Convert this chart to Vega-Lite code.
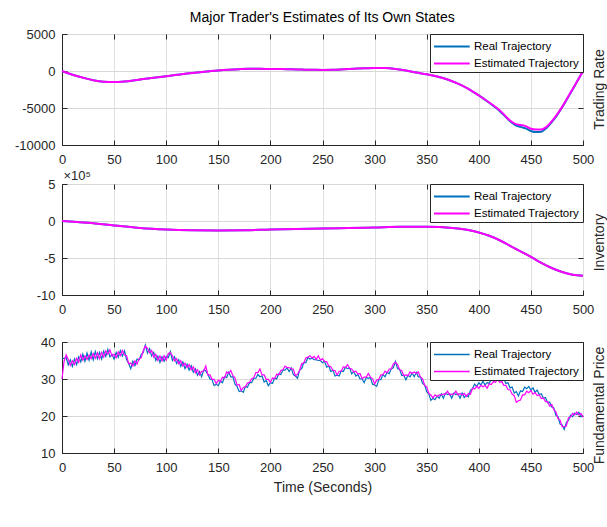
{
  "$schema": "https://vega.github.io/schema/vega-lite/v6.json",
  "padding": {"left": 14, "top": 10, "right": 5, "bottom": 5},
  "title": {"text": "Major Trader's Estimates of Its Own States", "anchor": "middle", "offset": 3, "dx": 12},
  "datasets": {
    "p1": [
      {"t":0,"r":0,"e":0},{"t":10,"r":-500,"e":-500},{"t":20,"r":-900,"e":-900},{"t":30,"r":-1250,"e":-1250},{"t":40,"r":-1450,"e":-1450},{"t":50,"r":-1500,"e":-1500},{"t":60,"r":-1420,"e":-1420},{"t":70,"r":-1250,"e":-1250},{"t":80,"r":-1050,"e":-1050},{"t":90,"r":-880,"e":-880},{"t":100,"r":-700,"e":-700},{"t":110,"r":-520,"e":-520},{"t":120,"r":-350,"e":-350},{"t":130,"r":-200,"e":-200},{"t":140,"r":-60,"e":-60},{"t":150,"r":80,"e":80},{"t":160,"r":180,"e":180},{"t":170,"r":250,"e":250},{"t":180,"r":290,"e":290},{"t":190,"r":290,"e":290},{"t":200,"r":280,"e":280},{"t":210,"r":270,"e":270},{"t":220,"r":240,"e":240},{"t":230,"r":200,"e":200},{"t":240,"r":160,"e":160},{"t":250,"r":150,"e":150},{"t":260,"r":170,"e":170},{"t":270,"r":230,"e":230},{"t":280,"r":300,"e":300},{"t":290,"r":370,"e":370},{"t":300,"r":420,"e":420},{"t":310,"r":400,"e":400},{"t":320,"r":280,"e":280},{"t":330,"r":60,"e":60},{"t":340,"r":-200,"e":-200},{"t":350,"r":-450,"e":-450},{"t":360,"r":-750,"e":-750},{"t":370,"r":-1150,"e":-1150},{"t":380,"r":-1700,"e":-1700},{"t":390,"r":-2400,"e":-2400},{"t":400,"r":-3300,"e":-3300},{"t":410,"r":-4300,"e":-4250},{"t":420,"r":-5400,"e":-5300},{"t":425,"r":-6100,"e":-6000},{"t":430,"r":-6800,"e":-6700},{"t":435,"r":-7300,"e":-7150},{"t":440,"r":-7550,"e":-7300},{"t":445,"r":-7750,"e":-7450},{"t":450,"r":-8100,"e":-7800},{"t":455,"r":-8250,"e":-7900},{"t":460,"r":-8200,"e":-7900},{"t":465,"r":-7700,"e":-7550},{"t":470,"r":-6900,"e":-6800},{"t":475,"r":-6000,"e":-5900},{"t":480,"r":-4900,"e":-4850},{"t":485,"r":-3700,"e":-3650},{"t":490,"r":-2500,"e":-2450},{"t":495,"r":-1250,"e":-1250},{"t":500,"r":0,"e":0}
    ],
    "p2": [
      {"t":0,"r":0,"e":0},{"t":25,"r":-0.25,"e":-0.25},{"t":50,"r":-0.6,"e":-0.6},{"t":75,"r":-0.95,"e":-0.95},{"t":100,"r":-1.15,"e":-1.15},{"t":125,"r":-1.25,"e":-1.25},{"t":150,"r":-1.28,"e":-1.28},{"t":175,"r":-1.25,"e":-1.25},{"t":200,"r":-1.15,"e":-1.15},{"t":225,"r":-1.08,"e":-1.08},{"t":250,"r":-1.02,"e":-1.02},{"t":275,"r":-0.95,"e":-0.95},{"t":300,"r":-0.87,"e":-0.87},{"t":325,"r":-0.78,"e":-0.78},{"t":350,"r":-0.78,"e":-0.78},{"t":375,"r":-0.95,"e":-0.95},{"t":400,"r":-1.55,"e":-1.55},{"t":410,"r":-2.0,"e":-2.0},{"t":420,"r":-2.6,"e":-2.6},{"t":430,"r":-3.35,"e":-3.35},{"t":440,"r":-4.1,"e":-4.1},{"t":450,"r":-4.85,"e":-4.85},{"t":460,"r":-5.65,"e":-5.65},{"t":470,"r":-6.35,"e":-6.35},{"t":480,"r":-6.9,"e":-6.9},{"t":490,"r":-7.25,"e":-7.25},{"t":500,"r":-7.4,"e":-7.4}
    ],
    "p3": [
      {"t":0,"r":35.6,"e":30.0},{"t":2,"r":35.6,"e":34.8},{"t":4,"r":35.8,"e":36.5},{"t":6,"r":33.8,"e":35.3},{"t":8,"r":35.2,"e":33.7},{"t":10,"r":33.4,"e":34.9},{"t":12,"r":35.4,"e":33.9},{"t":14,"r":33.9,"e":35.6},{"t":16,"r":36.0,"e":34.5},{"t":18,"r":34.6,"e":36.5},
      {"t":20,"r":36.7,"e":35.1},{"t":22,"r":34.8,"e":36.3},{"t":24,"r":37.0,"e":35.3},{"t":26,"r":35.1,"e":36.5},{"t":28,"r":37.3,"e":35.5},{"t":30,"r":35.2,"e":36.9},{"t":32,"r":37.4,"e":35.6},{"t":34,"r":35.5,"e":37.1},{"t":36,"r":37.2,"e":35.5},{"t":38,"r":35.4,"e":37.2},
      {"t":40,"r":37.5,"e":35.9},{"t":42,"r":36.1,"e":37.6},{"t":44,"r":38.0,"e":36.7},{"t":46,"r":36.0,"e":37.9},{"t":48,"r":36.6,"e":36.2},{"t":50,"r":35.4,"e":36.7},{"t":52,"r":37.2,"e":35.7},{"t":54,"r":35.9,"e":37.3},{"t":56,"r":37.7,"e":36.3},{"t":58,"r":36.2,"e":37.7},
      {"t":60,"r":37.6,"e":36.5},{"t":62,"r":35.2,"e":36.3},{"t":64,"r":34.2,"e":34.1},{"t":66,"r":32.8,"e":34.3},{"t":68,"r":34.8,"e":33.5},{"t":70,"r":33.6,"e":34.9},{"t":72,"r":35.4,"e":34.0},{"t":74,"r":35.2,"e":35.5},{"t":76,"r":36.6,"e":35.7},{"t":78,"r":37.2,"e":37.7},
      {"t":80,"r":39.2,"e":38.9},{"t":82,"r":37.0,"e":38.3},{"t":84,"r":38.2,"e":37.1},{"t":86,"r":36.2,"e":37.7},{"t":88,"r":37.2,"e":35.9},{"t":90,"r":35.0,"e":36.7},{"t":92,"r":36.2,"e":35.0},{"t":94,"r":34.5,"e":36.2},{"t":96,"r":36.0,"e":34.9},{"t":98,"r":34.8,"e":36.3},
      {"t":100,"r":36.1,"e":35.1},{"t":102,"r":35.8,"e":36.9},{"t":104,"r":37.4,"e":37.1},{"t":106,"r":35.0,"e":36.3},{"t":108,"r":36.0,"e":34.9},{"t":110,"r":34.2,"e":35.5},{"t":112,"r":35.2,"e":34.1},{"t":114,"r":33.4,"e":34.9},{"t":116,"r":34.6,"e":33.5},{"t":118,"r":32.8,"e":34.3},
      {"t":120,"r":34.0,"e":33.1},{"t":122,"r":32.4,"e":33.9},{"t":124,"r":33.6,"e":32.5},{"t":126,"r":31.8,"e":33.3},{"t":128,"r":32.8,"e":31.7},{"t":130,"r":31.0,"e":32.5},{"t":132,"r":32.0,"e":31.1},{"t":134,"r":30.6,"e":32.1},{"t":136,"r":32.4,"e":32.1},{"t":138,"r":32.2,"e":33.5},
      {"t":140,"r":31.2,"e":31.1},{"t":142,"r":30.0,"e":31.1},{"t":144,"r":29.8,"e":29.9},{"t":146,"r":28.2,"e":29.9},{"t":148,"r":28.6,"e":28.7},{"t":150,"r":28.2,"e":29.7},{"t":152,"r":29.4,"e":29.3},{"t":154,"r":29.0,"e":30.5},{"t":156,"r":30.6,"e":30.3},{"t":158,"r":30.4,"e":31.9},
      {"t":160,"r":31.8,"e":31.5},{"t":162,"r":30.6,"e":32.3},{"t":164,"r":30.6,"e":30.9},{"t":166,"r":28.6,"e":30.3},{"t":168,"r":28.0,"e":28.3},{"t":170,"r":26.6,"e":28.5},{"t":172,"r":26.8,"e":26.9},{"t":174,"r":26.4,"e":27.7},{"t":176,"r":28.0,"e":27.9},{"t":178,"r":27.8,"e":28.9},
      {"t":180,"r":29.0,"e":29.1},{"t":182,"r":29.0,"e":30.1},{"t":184,"r":30.2,"e":30.3},{"t":186,"r":30.2,"e":31.7},{"t":188,"r":31.2,"e":31.7},{"t":190,"r":30.6,"e":32.7},{"t":192,"r":30.8,"e":31.1},{"t":194,"r":29.2,"e":31.1},{"t":196,"r":29.6,"e":29.9},{"t":198,"r":28.2,"e":29.9},
      {"t":200,"r":29.0,"e":29.1},{"t":202,"r":28.8,"e":30.3},{"t":204,"r":30.2,"e":30.1},{"t":206,"r":30.0,"e":31.3},{"t":208,"r":31.4,"e":31.1},{"t":210,"r":31.2,"e":32.3},{"t":212,"r":32.4,"e":32.5},{"t":214,"r":32.4,"e":33.5},{"t":216,"r":33.0,"e":33.1},{"t":218,"r":32.0,"e":33.1},
      {"t":220,"r":33.0,"e":32.7},{"t":222,"r":31.2,"e":32.7},{"t":224,"r":30.8,"e":30.9},{"t":226,"r":30.2,"e":31.3},{"t":228,"r":32.4,"e":32.3},{"t":230,"r":32.8,"e":34.1},{"t":232,"r":34.4,"e":34.3},{"t":234,"r":34.4,"e":35.7},{"t":236,"r":35.8,"e":35.9},{"t":238,"r":35.4,"e":36.3},
      {"t":240,"r":35.6,"e":35.7},{"t":242,"r":35.2,"e":36.1},{"t":244,"r":35.2,"e":35.3},{"t":246,"r":35.0,"e":36.3},{"t":248,"r":35.0,"e":35.1},{"t":250,"r":34.4,"e":35.5},{"t":252,"r":34.8,"e":34.7},{"t":254,"r":33.2,"e":34.7},{"t":256,"r":33.6,"e":33.5},{"t":258,"r":32.0,"e":33.3},
      {"t":260,"r":32.4,"e":32.3},{"t":262,"r":30.8,"e":32.3},{"t":264,"r":31.0,"e":31.1},{"t":266,"r":30.8,"e":32.1},{"t":268,"r":32.2,"e":32.1},{"t":270,"r":32.0,"e":33.3},{"t":272,"r":33.2,"e":33.1},{"t":274,"r":32.8,"e":33.9},{"t":276,"r":33.0,"e":32.9},{"t":278,"r":31.4,"e":32.7},
      {"t":280,"r":32.0,"e":31.9},{"t":282,"r":30.8,"e":32.1},{"t":284,"r":31.2,"e":31.3},{"t":286,"r":30.0,"e":31.5},{"t":288,"r":30.0,"e":30.1},{"t":290,"r":29.0,"e":30.5},{"t":292,"r":30.4,"e":30.5},{"t":294,"r":30.2,"e":31.5},{"t":296,"r":30.4,"e":30.5},{"t":298,"r":28.6,"e":30.1},
      {"t":300,"r":28.4,"e":28.7},{"t":302,"r":28.0,"e":29.7},{"t":304,"r":29.8,"e":29.9},{"t":306,"r":29.8,"e":31.1},{"t":308,"r":31.2,"e":31.1},{"t":310,"r":30.6,"e":32.1},{"t":312,"r":31.8,"e":31.7},{"t":314,"r":31.4,"e":32.7},{"t":316,"r":32.8,"e":32.7},{"t":318,"r":33.0,"e":34.1},
      {"t":320,"r":34.8,"e":34.5},{"t":322,"r":32.8,"e":33.9},{"t":324,"r":32.6,"e":32.5},{"t":326,"r":31.0,"e":32.3},{"t":328,"r":31.0,"e":30.9},{"t":330,"r":29.8,"e":31.1},{"t":332,"r":31.0,"e":30.9},{"t":334,"r":30.6,"e":31.9},{"t":336,"r":31.6,"e":31.5},{"t":338,"r":30.6,"e":31.9},
      {"t":340,"r":31.8,"e":31.5},{"t":342,"r":30.6,"e":31.9},{"t":344,"r":30.6,"e":30.5},{"t":346,"r":28.8,"e":30.1},{"t":348,"r":28.4,"e":28.3},{"t":350,"r":26.6,"e":27.9},{"t":352,"r":26.0,"e":26.1},{"t":354,"r":24.2,"e":25.7},{"t":356,"r":24.8,"e":24.9},{"t":358,"r":24.4,"e":25.7},
      {"t":360,"r":25.4,"e":25.3},{"t":362,"r":24.8,"e":25.7},{"t":364,"r":26.0,"e":25.7},{"t":366,"r":24.8,"e":25.9},{"t":368,"r":26.2,"e":25.9},{"t":370,"r":25.8,"e":26.7},{"t":372,"r":26.0,"e":25.7},{"t":374,"r":24.8,"e":25.9},{"t":376,"r":26.2,"e":25.9},{"t":378,"r":25.8,"e":26.7},
      {"t":380,"r":26.0,"e":25.7},{"t":382,"r":24.8,"e":26.1},{"t":384,"r":26.2,"e":25.7},{"t":386,"r":25.0,"e":26.1},{"t":388,"r":25.6,"e":25.3},{"t":390,"r":25.2,"e":26.1},{"t":392,"r":27.0,"e":25.9},{"t":394,"r":27.4,"e":27.5},{"t":396,"r":28.6,"e":27.3},{"t":398,"r":28.0,"e":28.1},
      {"t":400,"r":29.0,"e":27.5},{"t":402,"r":28.4,"e":28.3},{"t":404,"r":29.4,"e":27.9},{"t":406,"r":28.4,"e":28.3},{"t":408,"r":29.0,"e":27.5},{"t":410,"r":28.8,"e":28.7},{"t":412,"r":30.0,"e":28.5},{"t":414,"r":29.6,"e":29.3},{"t":416,"r":30.6,"e":29.1},{"t":418,"r":30.0,"e":29.9},
      {"t":420,"r":30.4,"e":29.1},{"t":422,"r":29.4,"e":29.3},{"t":424,"r":30.0,"e":28.3},{"t":426,"r":28.8,"e":28.3},{"t":428,"r":29.0,"e":27.1},{"t":430,"r":27.6,"e":27.1},{"t":432,"r":27.8,"e":25.9},{"t":434,"r":26.2,"e":25.5},{"t":436,"r":26.6,"e":23.7},{"t":438,"r":25.4,"e":24.1},
      {"t":440,"r":26.8,"e":24.3},{"t":442,"r":26.6,"e":25.7},{"t":444,"r":27.8,"e":25.7},{"t":446,"r":27.4,"e":26.7},{"t":448,"r":28.0,"e":26.3},{"t":450,"r":27.0,"e":26.9},{"t":452,"r":27.6,"e":25.9},{"t":454,"r":26.4,"e":26.3},{"t":456,"r":27.0,"e":25.5},{"t":458,"r":25.8,"e":25.7},
      {"t":460,"r":26.0,"e":24.7},{"t":462,"r":24.8,"e":24.9},{"t":464,"r":25.0,"e":23.9},{"t":466,"r":23.6,"e":23.9},{"t":468,"r":23.8,"e":22.7},{"t":470,"r":22.4,"e":23.1},{"t":472,"r":22.2,"e":21.7},{"t":474,"r":20.2,"e":21.1},{"t":476,"r":19.8,"e":19.3},{"t":478,"r":17.8,"e":18.9},
      {"t":480,"r":17.6,"e":17.1},{"t":482,"r":16.4,"e":17.1},{"t":484,"r":18.2,"e":17.3},{"t":486,"r":18.8,"e":19.5},{"t":488,"r":20.2,"e":19.7},{"t":490,"r":19.8,"e":20.7},{"t":492,"r":20.8,"e":20.3},{"t":494,"r":20.4,"e":21.1},{"t":496,"r":21.0,"e":20.3},{"t":498,"r":19.8,"e":20.7},{"t":500,"r":20.2,"e":19.7}
    ]
  },
  "spacing": 1,
  "vconcat": [
    {
      "width": 521, "height": 111,
      "data": {"name": "p1"},
      "transform": [{"fold": ["r", "e"], "as": ["k", "v"]}],
      "layer": [
        {"mark": {"type": "line", "strokeWidth": 2, "interpolate": "monotone"},
         "encoding": {
           "x": {"field": "t", "type": "quantitative", "scale": {"domain": [0, 500], "nice": false}, "axis": {"values": [0,50,100,150,200,250,300,350,400,450,500], "title": null}},
           "y": {"field": "v", "type": "quantitative", "scale": {"domain": [-10000, 5000], "nice": false}, "axis": {"values": [-10000,-5000,0,5000], "title": null, "labelExpr": "'' + datum.value", "grid": true}},
           "color": {"field": "k", "type": "nominal", "scale": {"domain": ["r", "e"], "range": ["#0072BD", "#FF00FF"]}, "legend": {"symbolStrokeWidth": 2, "labelExpr": "datum.label == 'r' ? 'Real Trajectory' : 'Estimated Trajectory'"}}
         }},
        {"mark": {"type": "line", "opacity": 0},
         "encoding": {
           "x": {"field": "t", "type": "quantitative", "scale": {"domain": [0, 500], "nice": false}, "axis": {"orient": "top", "labels": false, "grid": false, "domain": false, "title": null, "values": [0,50,100,150,200,250,300,350,400,450,500]}},
           "y": {"field": "v", "type": "quantitative", "scale": {"domain": [-10000, 5000], "nice": false}, "axis": {"orient": "right", "labels": false, "grid": false, "domain": false, "values": [-10000,-5000,0,5000], "title": "Trading Rate", "titleAngle": 270, "titleX": 16, "titleY": 55, "titleAlign": "center", "titleBaseline": "middle"}}
         }}
      ],
      "resolve": {"scale": {"x": "independent", "y": "independent"}}
    },
    {
      "spacing": 18,
      "vconcat": [
        {
          "width": 521, "height": 111,
          "data": {"name": "p2"},
          "transform": [{"fold": ["r", "e"], "as": ["k", "v"]}],
          "layer": [
            {"mark": {"type": "line", "strokeWidth": 2, "interpolate": "monotone"},
             "encoding": {
               "x": {"field": "t", "type": "quantitative", "scale": {"domain": [0, 500], "nice": false}, "axis": {"values": [0,50,100,150,200,250,300,350,400,450,500], "title": null}},
               "y": {"field": "v", "type": "quantitative", "scale": {"domain": [-10, 5], "nice": false}, "axis": {"values": [-10,-5,0,5], "grid": true, "labelExpr": "'' + datum.value", "title": "×10⁵", "titleAngle": 0, "titleX": 1, "titleY": -2, "titleAlign": "left", "titleBaseline": "bottom", "titleFontSize": 13}},
               "color": {"field": "k", "type": "nominal", "scale": {"domain": ["r", "e"], "range": ["#0072BD", "#FF00FF"]}, "legend": {"symbolStrokeWidth": 2, "labelExpr": "datum.label == 'r' ? 'Real Trajectory' : 'Estimated Trajectory'"}}
             }},
            {"mark": {"type": "line", "opacity": 0},
             "encoding": {
               "x": {"field": "t", "type": "quantitative", "scale": {"domain": [0, 500], "nice": false}, "axis": {"orient": "top", "labels": false, "grid": false, "domain": false, "title": null, "values": [0,50,100,150,200,250,300,350,400,450,500]}},
               "y": {"field": "v", "type": "quantitative", "scale": {"domain": [-10, 5], "nice": false}, "axis": {"orient": "right", "labels": false, "grid": false, "domain": false, "values": [-10,-5,0,5], "title": "Inventory", "titleAngle": 270, "titleX": 16, "titleY": 58, "titleAlign": "center", "titleBaseline": "middle"}}
             }}
          ],
          "resolve": {"scale": {"x": "independent", "y": "independent"}}
        },
        {
          "width": 521, "height": 111,
          "data": {"name": "p3"},
          "transform": [{"fold": ["r", "e"], "as": ["k", "v"]}],
          "layer": [
            {"mark": {"type": "line", "strokeWidth": 1.2},
             "encoding": {
               "x": {"field": "t", "type": "quantitative", "scale": {"domain": [0, 500], "nice": false}, "axis": {"values": [0,50,100,150,200,250,300,350,400,450,500], "title": "Time (Seconds)", "titlePadding": 6}},
               "y": {"field": "v", "type": "quantitative", "scale": {"domain": [10, 40], "nice": false}, "axis": {"values": [10,20,30,40], "title": null, "grid": true}},
               "color": {"field": "k", "type": "nominal", "scale": {"domain": ["r", "e"], "range": ["#0072BD", "#FF00FF"]}, "legend": {"symbolStrokeWidth": 1.3, "labelExpr": "datum.label == 'r' ? 'Real Trajectory' : 'Estimated Trajectory'"}}
             }},
            {"mark": {"type": "line", "opacity": 0},
             "encoding": {
               "x": {"field": "t", "type": "quantitative", "scale": {"domain": [0, 500], "nice": false}, "axis": {"orient": "top", "labels": false, "grid": false, "domain": false, "title": null, "values": [0,50,100,150,200,250,300,350,400,450,500]}},
               "y": {"field": "v", "type": "quantitative", "scale": {"domain": [10, 40], "nice": false}, "axis": {"orient": "right", "labels": false, "grid": false, "domain": false, "values": [10,20,30,40], "title": "Fundamental Price", "titleAngle": 270, "titleX": 16, "titleY": 63, "titleAlign": "center", "titleBaseline": "middle"}}
             }}
          ],
          "resolve": {"scale": {"x": "independent", "y": "independent"}}
        }
      ],
      "resolve": {"scale": {"color": "independent"}, "legend": {"color": "independent"}}
    }
  ],
  "resolve": {"scale": {"color": "independent"}, "legend": {"color": "independent"}},
  "config": {
    "font": "Liberation Sans",
    "view": {"stroke": "#262626", "strokeWidth": 1},
    "title": {"font": "Liberation Sans", "fontSize": 14, "fontWeight": "normal", "color": "#000000"},
    "axis": {
      "labelFont": "Liberation Sans", "labelFontSize": 13, "labelColor": "#262626",
      "titleFont": "Liberation Sans", "titleFontSize": 14, "titleFontWeight": "normal", "titleColor": "#262626",
      "tickColor": "#262626", "tickSize": -5, "labelPadding": 12,
      "domainColor": "#262626", "gridColor": "#e0e0e0",
      "labelFlush": false, "labelOverlap": false
    },
    "axisX": {"labelPadding": 13},
    "axisY": {"gridColor": "#d8d8d8"},
    "legend": {
      "orient": "top-right", "offset": 0, "title": null,
      "symbolType": "M-1,0H3.2", "symbolSize": 289,
      "labelFont": "Liberation Sans", "labelFontSize": 11.5, "labelColor": "#000000", "labelOffset": 22,
      "strokeColor": "#262626", "fillColor": "#ffffff", "padding": 3, "rowPadding": 2, "cornerRadius": 0
    }
  }
}
